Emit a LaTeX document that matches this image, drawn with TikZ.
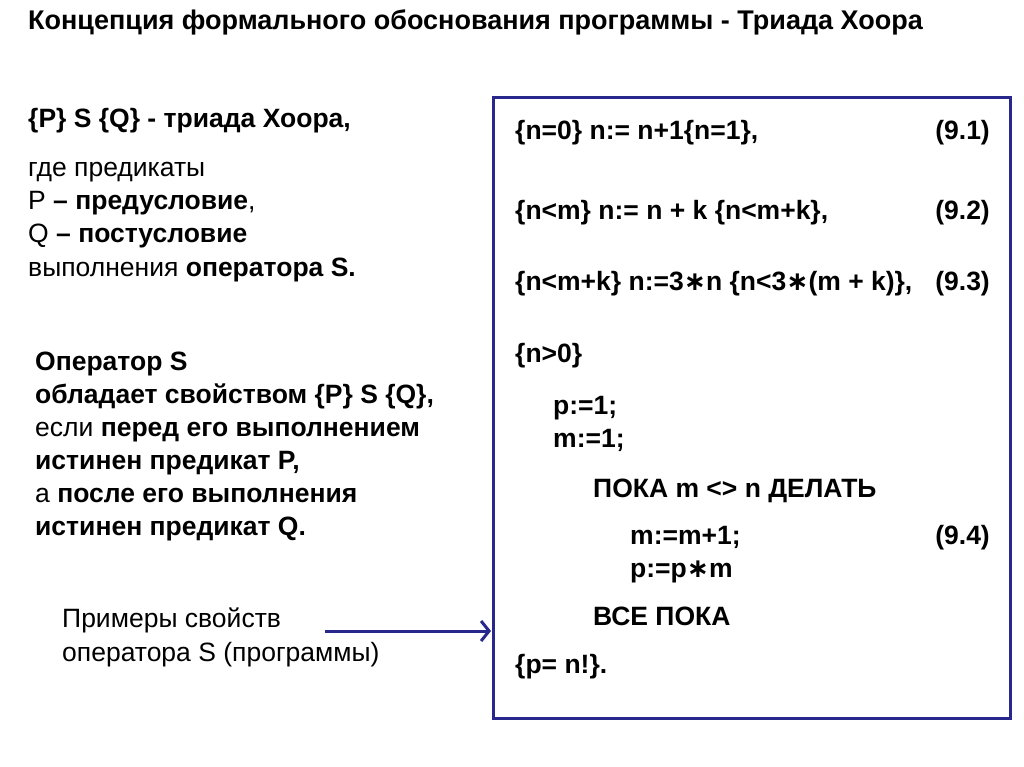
\documentclass[tikz,border=0pt]{standalone}
\usepackage{fontspec}
\usetikzlibrary{arrows.meta}
\setmainfont{Liberation Sans}
\newfontfamily\symf{DejaVu Sans}
\definecolor{navy}{RGB}{40,40,140}
\begin{document}
\begin{tikzpicture}[x=1pt,y=-1pt,
 t/.style={anchor=base west,inner sep=0pt,font=\fontsize{26.5}{30}\selectfont},
 tb/.style={anchor=base west,inner sep=0pt,font=\fontsize{26.5}{30}\selectfont\bfseries},
 tr/.style={anchor=base east,inner sep=0pt,font=\fontsize{26.5}{30}\selectfont\bfseries}]
\useasboundingbox (0,0) rectangle (1024,767);
\newcommand\st{{\symf∗}}
\node[anchor=base west,inner sep=0pt,font=\fontsize{27}{30}\selectfont\bfseries] (title) at (28,30) {Концепция формального обоснования программы - Триада Хоора};
\node[tb] (a1) at (28,128) {\{P\} S \{Q\} - триада Хоора,};
\node[t] (a2) at (28,177) {где предикаты};
\node[t] (a3) at (28,210) {P \textbf{– предусловие},};
\node[t] (a4) at (28,243) {Q \textbf{– постусловие}};
\node[t] (a5) at (28,276) {выполнения \textbf{оператора S.}};
\node[tb] (b1) at (35,370) {Оператор S};
\node[tb] (b2) at (35,403) {обладает свойством \{P\} S \{Q\},};
\node[t] (b3) at (35,436) {если \textbf{перед его выполнением}};
\node[tb] (b4) at (35,469) {истинен предикат P,};
\node[t] (b5) at (35,502) {а \textbf{после его выполнения}};
\node[tb] (b6) at (35,535) {истинен предикат Q.};
\node[t] (c1) at (62,627) {Примеры свойств};
\node[t] (c2) at (62,661) {оператора S (программы)};
\draw[navy,line width=3pt] (493,98) rectangle (1010,718);
\coordinate (as) at (325,631); \coordinate (ae) at (491,631);
\draw[navy,line width=3pt,-{Straight Barb[length=8pt,width=20pt]}] (as) -- (ae);
\node[tb] (r1) at (515,140) {\{n=0\} n:= n+1\{n=1\},};
\node[tr] (e1) at (990,140) {(9.1)};
\node[tb] (r2) at (515,220) {\{n<m\} n:= n + k \{n<m+k\},};
\node[tr] (e2) at (990,220) {(9.2)};
\node[tb] (r3) at (515,290) {\{n<m+k\} n:=3\st n \{n<3\st(m + k)\},};
\node[tr] (e3) at (990,290) {(9.3)};
\node[tb] (r4) at (515,362) {\{n>0\}};
\node[tb] (r5) at (553,414) {p:=1;};
\node[tb] (r6) at (553,447) {m:=1;};
\node[tb] (r7) at (593,497) {ПОКА m <> n ДЕЛАТЬ};
\node[tb] (r8) at (630,544) {m:=m+1;};
\node[tr] (e4) at (990,544) {(9.4)};
\node[tb] (r9) at (630,577) {p:=p\st m};
\node[tb] (r10) at (593,625) {ВСЕ ПОКА};
\node[tb] (r11) at (515,673) {\{p= n!\}.};
\end{tikzpicture}
\end{document}
